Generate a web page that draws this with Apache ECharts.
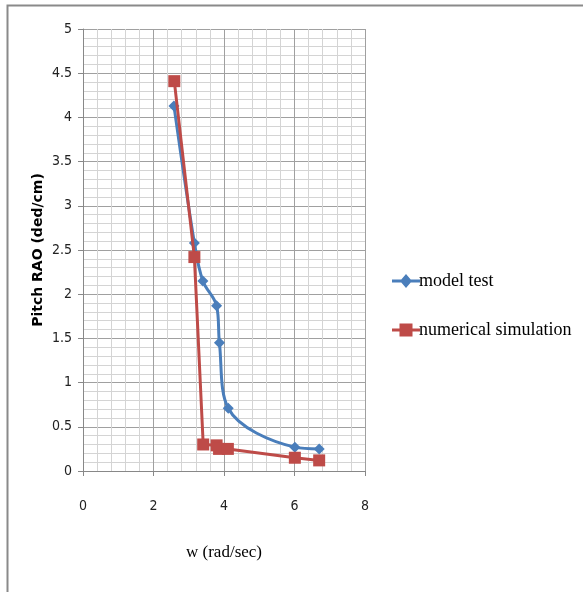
<!DOCTYPE html>
<html><head><meta charset="utf-8">
<script src="https://cdn.jsdelivr.net/npm/echarts@6/dist/echarts.min.js"></script>
<style>html,body{margin:0;padding:0;background:#fff}#c{width:583px;height:592px}</style>
</head><body><div id="c"></div>
<script>
const modelX = [2.58, 3.16, 3.40, 3.79, 3.87, 4.12, 6.01, 6.70];
const modelY = [4.13, 2.58, 2.15, 1.87, 1.45, 0.71, 0.27, 0.25];
const simX = [2.59, 3.16, 3.41, 3.79, 3.86, 4.11, 6.01, 6.70];
const simY = [4.41, 2.42, 0.30, 0.29, 0.25, 0.25, 0.15, 0.12];
const xTicks = [0, 2, 4, 6, 8];
const yTicks = [0, 0.5, 1, 1.5, 2, 2.5, 3, 3.5, 4, 4.5, 5];
const seriesNames = ['model test', 'numerical simulation'];

const pair = (xs, ys) => xs.map((x, i) => [x, ys[i]]);
const narrow = "'DejaVu Sans Condensed','Liberation Sans Narrow',sans-serif";
const serif = "'Liberation Serif','DejaVu Serif',serif";
const iconDiamond = 'path://M0 0.5 L0.01 0.5 L0.01 0.51 Z M0 6.5 L28 6.5 L28 9.5 L0 9.5 Z M14 1 L20 8 L14 15 L8 8 Z M27.99 15.5 L28 15.5 L28 15.49 Z';
const iconSquare = 'path://M0 0.5 L0.01 0.5 L0.01 0.51 Z M0 6.5 L28 6.5 L28 9.5 L0 9.5 Z M7.5 1.5 L20.5 1.5 L20.5 14.5 L7.5 14.5 Z M27.99 15.5 L28 15.5 L28 15.49 Z';
const chart = echarts.init(document.getElementById('c'));
chart.setOption({
  animation: false,
  graphic: [{type: 'rect', shape: {x: 7.5, y: 5.5, width: 600, height: 600},
    style: {fill: 'none', stroke: '#8a8a8a', lineWidth: 2}, z: -10}],
  grid: {left: 83, right: 218, top: 29, bottom: 121, containLabel: false},
  xAxis: {
    type: 'value', min: xTicks[0], max: xTicks[xTicks.length - 1], interval: 2,
    name: 'w (rad/sec)', nameLocation: 'middle', nameGap: 73,
    nameTextStyle: {fontFamily: serif, fontSize: 17, color: '#000'},
    axisLine: {show: true, lineStyle: {color: '#888', width: 1}},
    axisTick: {show: true, length: 5, lineStyle: {color: '#888'}},
    axisLabel: {fontFamily: narrow, fontSize: 14, color: '#222', margin: 28},
    splitLine: {show: true, lineStyle: {color: '#a0a0a0', width: 1}},
    minorTick: {show: false, splitNumber: 5},
    minorSplitLine: {show: true, lineStyle: {color: '#d4d4d4', width: 1}}
  },
  yAxis: {
    type: 'value', min: yTicks[0], max: yTicks[yTicks.length - 1], interval: 0.5,
    name: 'Pitch RAO (ded/cm)', nameLocation: 'middle', nameGap: 38, nameRotate: 90,
    nameTextStyle: {fontFamily: "'DejaVu Sans',sans-serif", fontSize: 14, fontWeight: 'bold', color: '#000'},
    axisLine: {show: true, lineStyle: {color: '#888', width: 1}},
    axisTick: {show: true, length: 5, lineStyle: {color: '#888'}},
    axisLabel: {fontFamily: narrow, fontSize: 14, color: '#222', margin: 11},
    splitLine: {show: true, lineStyle: {color: '#a0a0a0', width: 1}},
    minorTick: {show: false, splitNumber: 5},
    minorSplitLine: {show: true, lineStyle: {color: '#d4d4d4', width: 1}}
  },
  legend: {
    orient: 'vertical', left: 387, top: 267, itemGap: 31,
    itemWidth: 28, itemHeight: 16,
    textStyle: {fontFamily: serif, fontSize: 18, color: '#000', padding: [0, 0, 0, -6]},
    data: [{name: seriesNames[0], icon: iconDiamond}, {name: seriesNames[1], icon: iconSquare}]
  },
  series: [
    {name: seriesNames[0], type: 'line', data: pair(modelX, modelY), smooth: 0.35,
     symbol: 'diamond', symbolSize: 11, color: '#4a7ebb',
     lineStyle: {width: 3, color: '#4a7ebb'}, itemStyle: {color: '#4a7ebb'}, z: 2},
    {name: seriesNames[1], type: 'line', data: pair(simX, simY), smooth: false,
     symbol: 'rect', symbolSize: 12, color: '#be4b48',
     lineStyle: {width: 3, color: '#be4b48'}, itemStyle: {color: '#be4b48'}, z: 3}
  ]
});
</script></body></html>
